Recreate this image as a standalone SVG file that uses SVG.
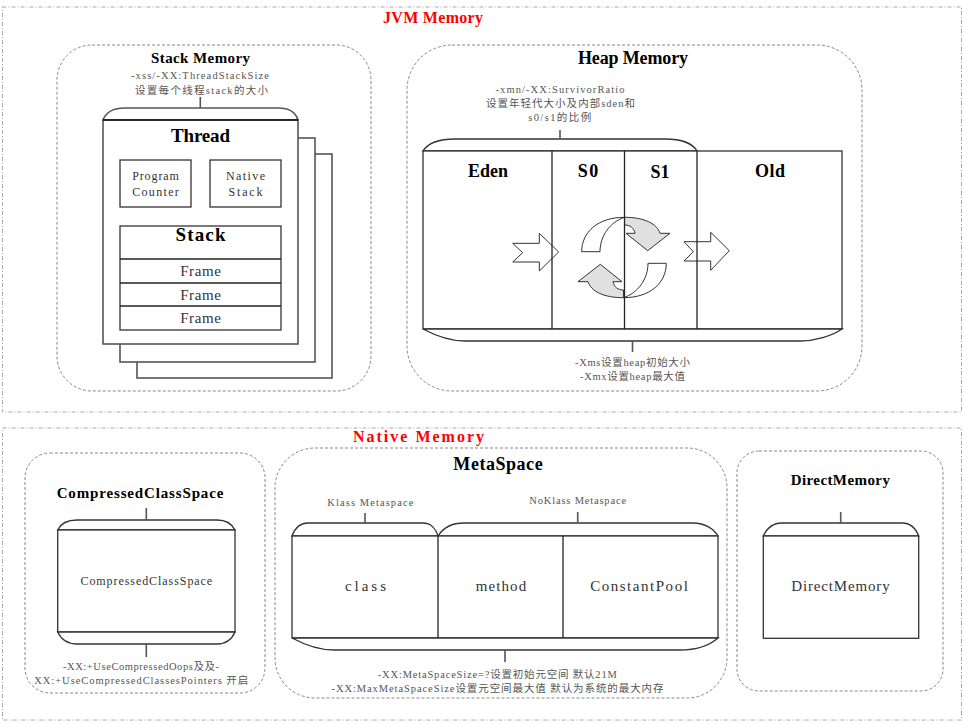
<svg xmlns="http://www.w3.org/2000/svg" width="964" height="725" viewBox="0 0 964 725">
<style>
text{font-family:"Liberation Serif","Noto Sans CJK SC",serif;text-anchor:middle}
.outer{fill:none;stroke:#aaa;stroke-width:1;stroke-dasharray:4 2 1 2}
.dash{fill:none;stroke:#888;stroke-width:1;stroke-dasharray:3 2}
.shape{fill:#fff;stroke:#333;stroke-width:1.3}
.back{fill:#fff;stroke:#555;stroke-width:1.6}
.line{fill:none;stroke:#222;stroke-width:1.3}
.tick{stroke:#555;stroke-width:1.6}
.red{fill:#ff0000;font-size:16px;font-weight:bold}
.t1{fill:#000;font-weight:bold;font-size:15px}
.t2{fill:#000;font-weight:bold;font-size:18px}
.ser{font-weight:bold;font-size:19px;fill:#000}
.s{fill:#555;font-size:10.5px}
.in{fill:#333;font-size:12px}
.lab{fill:#333;font-size:15px}
.arr{fill:#fff;stroke:#333;stroke-width:1}
.gray{fill:#e0e0e0;stroke:#333;stroke-width:1}
</style>

<g id="jvm-memory">
<rect class="outer" x="2.5" y="7" width="959" height="405"/>
<text class="red" x="433" y="23" textLength="100" lengthAdjust="spacing">JVM Memory</text>
</g>

<g id="native-memory">
<rect class="outer" x="2.5" y="428" width="959" height="292"/>
<text class="red" x="418.5" y="442" textLength="131" lengthAdjust="spacing">Native Memory</text>
</g>

<g id="stack-memory">
<rect class="dash" x="57" y="45" width="314" height="346" rx="35"/>
<text class="t1" x="200.5" y="63" textLength="99" lengthAdjust="spacing">Stack Memory</text>
<text class="s" x="200" y="79" textLength="138" lengthAdjust="spacing">-xss/-XX:ThreadStackSize</text>
<text class="s" x="201.5" y="94" textLength="133" lengthAdjust="spacing">设置每个线程stack的大小</text>
</g>

<g id="thread">
<rect class="back" x="137" y="154" width="195" height="224"/>
<rect class="back" x="120" y="138" width="195" height="224"/>
<path class="back" d="M103,120 C106,112 113,108 125,108 L278,108 C290,108 296,113 298,120 Z"/>
<rect class="back" x="103" y="120" width="195" height="224"/>
<line x1="103" y1="120" x2="298" y2="120" stroke="#111" stroke-width="1.3"/>
<text class="ser" x="200.5" y="142" textLength="59" lengthAdjust="spacing">Thread</text>
</g>

<g id="program-counter">
<rect class="shape" x="120" y="160" width="71" height="47"/>
<text class="in" x="155.5" y="180" textLength="46.7" lengthAdjust="spacing">Program</text>
<text class="in" x="155.5" y="196" textLength="46.7" lengthAdjust="spacing">Counter</text>
</g>

<g id="native-stack">
<rect class="shape" x="210" y="160" width="71" height="47"/>
<text class="in" x="245.5" y="180" textLength="39" lengthAdjust="spacing">Native</text>
<text class="in" x="245.5" y="196" textLength="34" lengthAdjust="spacing">Stack</text>
</g>

<g id="stack">
<rect class="shape" x="120" y="226" width="161" height="104"/>
<line class="line" x1="120" y1="259" x2="281" y2="259"/>
<line class="line" x1="120" y1="283" x2="281" y2="283"/>
<line class="line" x1="120" y1="306" x2="281" y2="306"/>
<text class="ser" x="200.5" y="241" textLength="50" lengthAdjust="spacing">Stack</text>
<text class="lab" x="200.5" y="276" textLength="40.7" lengthAdjust="spacing">Frame</text>
<text class="lab" x="200.5" y="300" textLength="40.7" lengthAdjust="spacing">Frame</text>
<text class="lab" x="200.5" y="323" textLength="40.7" lengthAdjust="spacing">Frame</text>
</g>

<g id="heap-memory">
<rect class="dash" x="407" y="45" width="455" height="346" rx="45"/>
<text class="t2" x="633" y="64" textLength="110" lengthAdjust="spacing">Heap Memory</text>
<text class="s" x="560" y="93" textLength="129" lengthAdjust="spacing">-xmn/-XX:SurvivorRatio</text>
<text class="s" x="560.5" y="107" textLength="149" lengthAdjust="spacing">设置年轻代大小及内部sden和</text>
<text class="s" x="559.7" y="121" textLength="63" lengthAdjust="spacing">s0/s1的比例</text>
<text class="s" x="632.5" y="366" textLength="115" lengthAdjust="spacing">-Xms设置heap初始大小</text>
<text class="s" x="632.5" y="380" textLength="105" lengthAdjust="spacing">-Xmx设置heap最大值</text>
</g>

<g id="heap">
<path class="shape" d="M423,151 C428,143 438,139 455,139 L665,139 C682,139 693,144 697,151 Z"/>
<rect class="shape" x="423" y="151" width="419" height="178"/>
<path class="shape" d="M423,329 C438,337 450,341 465,341 L800,341 C815,341 832,336 842,329 Z"/>
<polygon class="arr" points="512.7,243.3 539.3,243.3 539.3,233.3 558.7,252 539.3,271 539.3,262 512.7,262 522.7,252.7"/>
<polygon class="arr" points="684,241.7 710.7,241.7 710.7,232.3 729.3,250.7 710.7,270.3 710.7,261 684,261 693.3,251.7"/>
<g id="cycle-upper">
<path class="arr" d="M581.7,251.7 C581.7,232 598,217.3 624.5,217.3 C610,222 600,236 600,251.7 Z"/>
<path class="gray" d="M624.5,217.3 C645,217.3 657,224 660,233.3 L670,233.3 L647.7,250.7 L626,233.3 L635,233.3 C634,228 630,225 624.5,225 Z"/>
</g>
<g id="cycle-lower" transform="rotate(180 624 257.5)">
<path class="arr" d="M581.7,251.7 C581.7,232 598,217.3 624.5,217.3 C610,222 600,236 600,251.7 Z"/>
<path class="gray" d="M624.5,217.3 C645,217.3 657,224 660,233.3 L670,233.3 L647.7,250.7 L626,233.3 L635,233.3 C634,228 630,225 624.5,225 Z"/>
</g>
<line class="line" x1="552" y1="151" x2="552" y2="329"/>
<line class="line" x1="624.5" y1="151" x2="624.5" y2="329"/>
<line class="line" x1="697" y1="151" x2="697" y2="329"/>
<text class="t2" x="488" y="177" textLength="40" lengthAdjust="spacing">Eden</text>
<text class="t2" x="588" y="177" textLength="20.7" lengthAdjust="spacing">S0</text>
<text class="t2" x="660" y="178" textLength="19" lengthAdjust="spacing">S1</text>
<text class="t2" x="770" y="177" textLength="30" lengthAdjust="spacing">Old</text>
</g>

<g id="compressed-class-space-area">
<rect class="dash" x="25" y="453" width="240" height="240" rx="25"/>
<text class="t1" x="140" y="498" textLength="166.7" lengthAdjust="spacing">CompressedClassSpace</text>
<text class="s" x="141" y="670" textLength="156" lengthAdjust="spacing">-XX:+UseCompressedOops及及-</text>
<text class="s" x="141.3" y="684" textLength="214" lengthAdjust="spacing">XX:+UseCompressedClassesPointers 开启</text>
</g>

<g id="compressed-class-space">
<path class="shape" d="M57.7,530 C61,523 67,520 77,520 L217,520 C227,520 232,524 235,530 Z"/>
<rect class="shape" x="57.7" y="530" width="177.3" height="102"/>
<path class="shape" d="M57.7,632 C61,639 67,644 77,644 L217,644 C227,644 232,639 235,632 Z"/>
<text class="in" x="146.3" y="585" textLength="131.7" lengthAdjust="spacing">CompressedClassSpace</text>
</g>

<g id="metaspace-area">
<rect class="dash" x="275" y="448" width="452" height="250" rx="40"/>
<text class="t2" x="498" y="470" textLength="89.3" lengthAdjust="spacing">MetaSpace</text>
<text class="s" x="370.3" y="505.5" textLength="86" lengthAdjust="spacing">Klass Metaspace</text>
<text class="s" x="577.7" y="504" textLength="96.7" lengthAdjust="spacing">NoKlass Metaspace</text>
<text class="s" x="497.3" y="678" textLength="239" lengthAdjust="spacing">-XX:MetaSpaceSize=?设置初始元空间 默认21M</text>
<text class="s" x="497.5" y="692" textLength="332" lengthAdjust="spacing">-XX:MaxMetaSpaceSize设置元空间最大值 默认为系统的最大内存</text>
</g>

<g id="metaspace">
<path class="shape" d="M292,536 C295,528 300,523 308,523 L423,523 C431,523 436,529 438,536 Z"/>
<path class="shape" d="M438,536 C443,528 452,523 464,523 L693,523 C705,523 714,529 718,536 Z"/>
<rect class="shape" x="292" y="536" width="426" height="102"/>
<path class="shape" d="M292,638 C305,645 318,650 334,650 L680,650 C697,650 710,645 718,638 Z"/>
<line class="line" x1="438" y1="536" x2="438" y2="638"/>
<line class="line" x1="563" y1="536" x2="563" y2="638"/>
<text class="lab" x="365.5" y="591" textLength="41" lengthAdjust="spacing">class</text>
<text class="lab" x="501" y="591" textLength="50.3" lengthAdjust="spacing">method</text>
<text class="lab" x="639" y="591" textLength="97.7" lengthAdjust="spacing">ConstantPool</text>
</g>

<g id="direct-memory-area">
<rect class="dash" x="737" y="451" width="206" height="240" rx="22"/>
<text class="t1" x="840.3" y="485" textLength="99.3" lengthAdjust="spacing">DirectMemory</text>
</g>

<g id="direct-memory">
<path class="shape" d="M763.3,536 C767,528 772,523 782,523 L902,523 C912,523 916,529 918.7,536 Z"/>
<rect class="shape" x="763.3" y="536" width="155.4" height="102.3"/>
<text class="lab" x="840.5" y="591" textLength="98.3" lengthAdjust="spacing">DirectMemory</text>
</g>

<g id="connectors">
<line class="tick" x1="200.3" y1="97" x2="200.3" y2="108"/>
<line class="tick" x1="560" y1="130" x2="560" y2="139"/>
<line class="tick" x1="632.5" y1="341" x2="632.5" y2="352"/>
<line class="tick" x1="146.3" y1="508" x2="146.3" y2="520"/>
<line class="tick" x1="146.3" y1="644" x2="146.3" y2="657"/>
<line class="tick" x1="365" y1="513" x2="365" y2="523"/>
<line class="tick" x1="577.7" y1="512" x2="577.7" y2="523"/>
<line class="tick" x1="505" y1="650" x2="505" y2="662"/>
<line class="tick" x1="840.7" y1="512" x2="840.7" y2="523"/>
</g>
</svg>
